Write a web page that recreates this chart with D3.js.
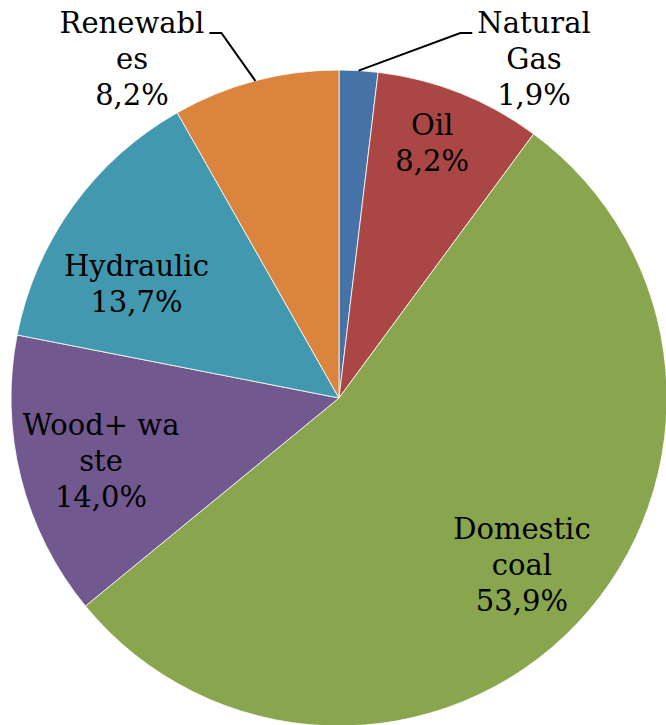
<!DOCTYPE html>
<html>
<head>
<meta charset="utf-8">
<script src="https://cdn.jsdelivr.net/npm/d3@7"></script>
<style>
  body { margin: 0; background: #fff; }
</style>
</head>
<body>
<div id="chart"></div>
<script>
// data
const categories = ["Natural Gas", "Oil", "Domestic coal", "Wood+ waste", "Hydraulic", "Renewables"];
const labelLines = [["Natural", "Gas"], ["Oil"], ["Domestic", "coal"], ["Wood+ wa", "ste"], ["Hydraulic"], ["Renewabl", "es"]];
const shares = [1.9, 8.2, 53.9, 14.0, 13.7, 8.2];
const colors = ["#4572A7", "#AA4643", "#89A54E", "#71588F", "#4198AF", "#DB843D"];

// label placement (radius factor + angle nudge in degrees), outside ones get a leader line
const labelPlace = [
  { outside: true, x: 534, side: 1 },
  { k: 0.83, dA: -1.6 },
  { k: 0.753, dA: -1.3 },
  { k: 0.75, dA: -0.5 },
  { k: 0.71, dA: -6.2 },
  { outside: true, x: 132, side: -1 }
];

const width = 666, height = 725;
const cx = 339, cy = 398, radius = 328;
const lineH = 36;

const data = categories.map((c, i) => ({ name: c, value: shares[i], lines: labelLines[i], color: colors[i], place: labelPlace[i] }));

const svg = d3.select('#chart').append('svg')
  .attr('width', width)
  .attr('height', height);

const g = svg.append('g').attr('transform', `translate(${cx},${cy})`);

const pie = d3.pie().sort(null).value(d => d.value);
const arc = d3.arc().innerRadius(0).outerRadius(radius);
const arcs = pie(data);

g.selectAll('.slice')
  .data(arcs)
  .join('path')
  .attr('class', 'slice')
  .attr('d', arc)
  .attr('fill', d => d.data.color)
  .attr('stroke', '#fff')
  .attr('stroke-width', 0.8);

const fmt = v => d3.format('.1f')(v).replace('.', ',') + '%';

arcs.forEach(d => {
  const p = d.data.place;
  const mid = (d.startAngle + d.endAngle) / 2;
  const txt = d.data.lines.concat([fmt(d.data.value)]);
  const n = txt.length;
  let px, py, firstBase;
  if (p.outside) {
    px = p.x - cx;
    firstBase = 33 - cy;
  } else {
    const a = mid + p.dA * Math.PI / 180;
    px = Math.sin(a) * radius * p.k;
    py = -Math.cos(a) * radius * p.k;
    firstBase = py + 11 - (n - 1) / 2 * lineH;
  }
  const t = g.append('text')
    .attr('class', 'slice-label')
    .attr('font-family', '"DejaVu Serif", serif')
    .attr('font-size', 29)
    .attr('fill', '#000')
    .attr('text-anchor', 'middle');
  txt.forEach((s, i) => {
    t.append('tspan')
      .attr('x', px)
      .attr('y', firstBase + i * lineH)
      .text(s);
  });

  if (p.outside) {
    // leader line: arc edge -> elbow -> short horizontal next to the first line
    const first = t.select('tspan').node().getComputedTextLength();
    const endX = px - p.side * (first / 2 + 5);
    const elbowX = endX - p.side * 12;
    const ly = firstBase;
    const ax = Math.sin(mid) * radius, ay = -Math.cos(mid) * radius;
    g.append('path')
      .attr('d', d3.line()([[ax, ay], [elbowX, ly], [endX, ly]]))
      .attr('fill', 'none')
      .attr('stroke', '#000')
      .attr('stroke-width', 2);
  }
});
</script>
</body>
</html>
